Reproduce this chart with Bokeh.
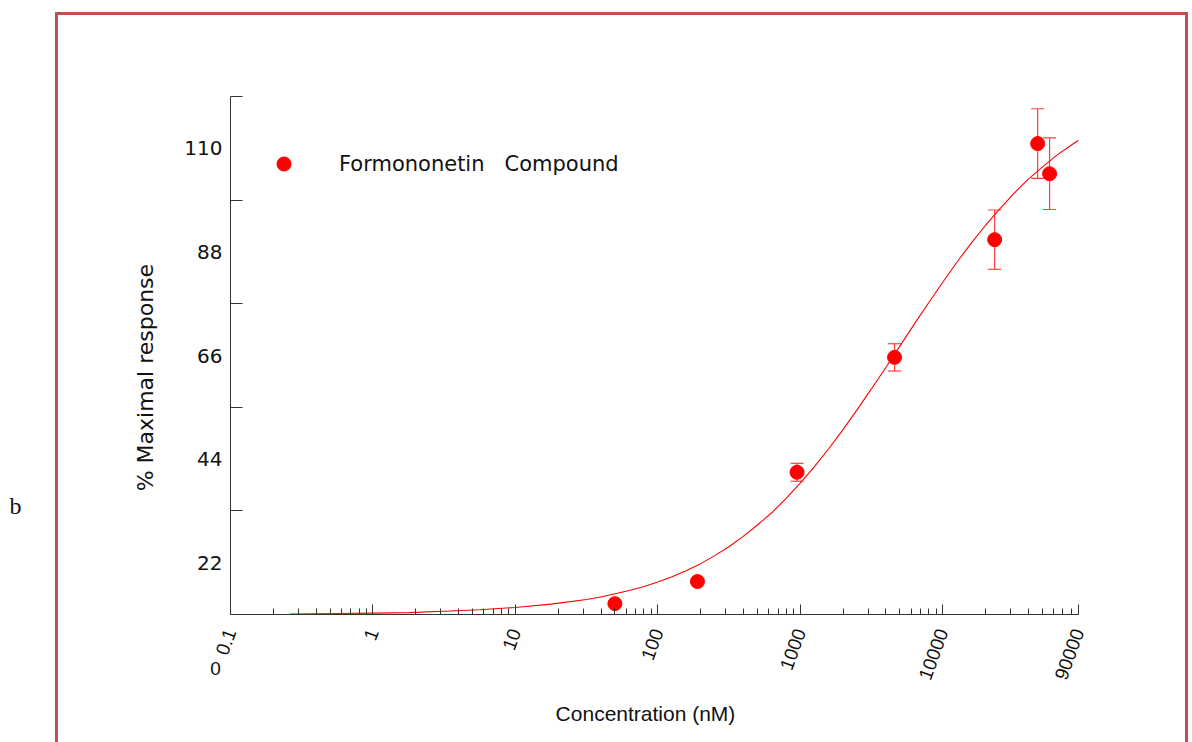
from bokeh.plotting import figure
from bokeh.models import (Range1d, FixedTicker, Whisker, TeeHead, ColumnDataSource,
                          Legend, LegendItem, Label, LinearAxis, LogAxis)
from bokeh.embed import file_html
from bokeh.resources import INLINE

# ---- data ----
conc_nM = [50, 190, 950, 4600, 23200, 46500, 56400]
response = [13.3, 18.0, 41.2, 65.6, 90.6, 111.0, 104.6]
sem = [0.0, 0.0, 1.9, 2.9, 6.3, 7.4, 7.6]

# fitted dose-response curve, read along its length
fit_conc = [0.263, 0.562, 1, 1.78, 3.16, 5.62, 10, 17.8, 31.6, 39.8, 50.1, 63.1, 79.4,
            100, 126, 158, 200, 251, 316, 398, 501, 631, 794, 1000, 1259, 1585, 1995,
            2512, 3162, 3981, 5012, 6310, 7943, 10000, 12589, 15849, 19953, 25119,
            31623, 39811, 50119, 63096, 79433, 89900]
fit_resp = [11.1, 11.2, 11.3, 11.4, 11.7, 12.0, 12.5, 13.2, 14.2, 14.7, 15.4, 16.1, 16.9,
            17.9, 19.0, 20.3, 21.8, 23.5, 25.4, 27.6, 30.0, 32.6, 35.6, 38.9, 42.4, 46.2, 50.2,
            54.5, 58.9, 63.4, 68.0, 72.6, 77.1, 81.5, 85.8, 89.8, 93.6, 97.1,
            100.4, 103.4, 106.0, 108.5, 110.6, 111.7]

x_ticks = [0.1, 1.0, 10.0, 100.0, 1000.0, 10000.0, 90000.0]
x_tick_labels = ["0.1", "1", "10", "100", "1000", "10000", "90000"]
y_ticks = [22, 44, 66, 88, 110]
y_tick_marks = [11, 33, 55, 77, 99, 121]

series_name = "Formononetin\u00a0\u00a0\u00a0Compound"
y_title = "% Maximal response"
x_title = "Concentration (nM)"

RED = "#ff0000"
AXIS = "#333333"
TXT = "#111111"
FRAME_RED = "#c0504d"

# red open box of the original figure panel, painted behind the (transparent) canvas border
g = f"linear-gradient({FRAME_RED}, {FRAME_RED})"
panel_box = (f"{g} 55px 12px / 3px 760px no-repeat, "
             f"{g} 55px 12px / 1133px 3px no-repeat, "
             f"{g} 1185px 12px / 3px 760px no-repeat, #ffffff")

p = figure(width=1192, height=742, x_axis_type="log",
           x_range=Range1d(0.1, 90000), y_range=Range1d(11, 121),
           output_backend="svg", toolbar_location=None,
           min_border_left=230, min_border_top=96, min_border_right=114, min_border_bottom=128,
           background_fill_color="white", border_fill_alpha=0,
           styles={"background": panel_box})
p.outline_line_color = None
p.grid.visible = False

# fitted curve
p.line(fit_conc, fit_resp, line_color=RED, line_width=1.1)

# error bars
wsrc = ColumnDataSource(dict(
    x=[c for c, e in zip(conc_nM, sem) if e > 0],
    lo=[r - e for r, e in zip(response, sem) if e > 0],
    hi=[r + e for r, e in zip(response, sem) if e > 0]))
wh = Whisker(source=wsrc, base="x", lower="lo", upper="hi", dimension="height",
             line_color="#ff4040", line_width=1.2,
             lower_head=TeeHead(size=13, line_color="#ff4040", line_width=1.2),
             upper_head=TeeHead(size=13, line_color="#ff4040", line_width=1.2))
p.add_layout(wh)

src = ColumnDataSource(dict(conc=conc_nM, resp=response))
pts = p.scatter(x="conc", y="resp", source=src, size=14, fill_color=RED, line_color=RED)

# x axis
xa = p.xaxis[0]
xa.ticker = FixedTicker(ticks=x_ticks,
                        minor_ticks=[m * d for d in [0.1, 1, 10, 100, 1000, 10000] for m in range(2, 10)])
xa.major_label_overrides = dict(zip(x_ticks, x_tick_labels))
xa.major_label_orientation = 1.22
xa.major_label_standoff = 15
xa.major_label_text_font = "Liberation Sans"
xa.major_label_text_font_size = "19px"
xa.major_label_text_color = TXT
xa.major_tick_in = 10
xa.major_tick_out = 0
xa.minor_tick_in = 6
xa.minor_tick_out = 0
xa.axis_line_color = AXIS
xa.major_tick_line_color = AXIS
xa.minor_tick_line_color = AXIS

# x title, carried by a bare outer axis so that it can sit where the original has it
x_title_pos = 82.0
xa2 = LogAxis(ticker=FixedTicker(ticks=[x_title_pos], minor_ticks=[]),
              major_label_overrides={x_title_pos: x_title},
              major_label_orientation="horizontal", major_label_standoff=9,
              major_label_text_font="Liberation Sans", major_label_text_font_size="21px",
              major_label_text_color=TXT,
              axis_line_color=None, major_tick_line_color=None, minor_tick_line_color=None)
p.add_layout(xa2, "below")

# y axis (numbers)
ya = p.yaxis[0]
ya.ticker = FixedTicker(ticks=y_ticks, minor_ticks=y_tick_marks)
ya.major_tick_in = 0
ya.major_tick_out = 0
ya.minor_tick_in = 12
ya.minor_tick_out = 0
ya.major_label_standoff = 8
ya.major_label_text_font = "DejaVu Sans"
ya.major_label_text_font_size = "20px"
ya.major_label_text_color = TXT
ya.axis_line_color = AXIS
ya.minor_tick_line_color = AXIS

# y title, carried by a bare outer axis so that it can sit where the original has it
y_title_pos = 61.3
ya2 = LinearAxis(ticker=FixedTicker(ticks=[y_title_pos], minor_ticks=[]),
                 major_label_overrides={y_title_pos: y_title},
                 major_label_orientation="vertical", major_label_standoff=17,
                 major_label_text_font="DejaVu Sans", major_label_text_font_size="22px",
                 major_label_text_color=TXT,
                 axis_line_color=None, major_tick_line_color=None, minor_tick_line_color=None)
p.add_layout(ya2, "left")

# legend
legend = Legend(items=[LegendItem(label=series_name, renderers=[pts])],
                location=(36, 433), padding=0, margin=0, spacing=0,
                glyph_width=35, glyph_height=35, label_standoff=38,
                label_text_font="DejaVu Sans", label_text_font_size="21px",
                label_text_color=TXT,
                border_line_alpha=0, background_fill_alpha=0)
p.add_layout(legend)

# panel letter and the zero under the first tick, placed in a side panel (not clipped)
p.add_layout(Label(x=15, y=505, x_units="canvas", y_units="canvas", text="b",
                   text_font="Liberation Serif", text_font_size="24px",
                   text_align="center", text_baseline="middle", text_color=TXT), "left")
p.add_layout(Label(x=215, y=668, x_units="canvas", y_units="canvas", text="0",
                   text_font="Liberation Sans", text_font_size="19px",
                   text_align="center", text_baseline="middle", text_color=TXT), "left")

open("out.html", "w").write(file_html(p, INLINE))
